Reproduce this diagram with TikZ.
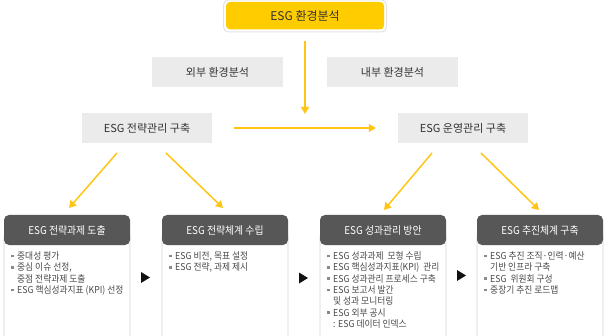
\documentclass[tikz,border=0pt]{standalone}
\usepackage{fontspec}
\setmainfont{Noto Sans CJK KR}
\newfontfamily\krc[FakeStretch=0.92]{Noto Sans CJK KR}
\usetikzlibrary{arrows.meta}
\definecolor{yellowc}{HTML}{FFCC00}
\definecolor{arrowc}{HTML}{FFC515}
\definecolor{grayfill}{HTML}{EBEBEB}
\definecolor{headc}{HTML}{575757}
\definecolor{borderc}{HTML}{D2D2D2}
\definecolor{outerc}{HTML}{E2E2E2}
\definecolor{textc}{HTML}{333333}
\definecolor{bodyc}{HTML}{4A4A4A}
\definecolor{bulc}{HTML}{8A8A8A}
\definecolor{tric}{HTML}{111111}
\newcommand{\bul}{\makebox[6pt][l]{\textcolor{bulc}{\rule[2.2pt]{2.6pt}{2.6pt}}}}
\newcommand{\cnt}{\hspace*{6pt}}
\begin{document}
\begin{tikzpicture}[x=1pt,y=-1pt,
  graybox/.style={fill=grayfill, text=textc, inner sep=0pt, minimum height=30pt, font=\fontsize{11}{13}\selectfont},
  headbox/.style={fill=headc, text=white, rounded corners=5pt, inner sep=0pt, minimum width=126pt, minimum height=30pt, font={\krc\fontsize{10.7}{13}\selectfont}},
  bodytext/.style={anchor=north west, align=left, inner sep=0pt, text=bodyc, font={\krc\fontsize{9.5}{11.3}\selectfont}},
  arr/.style={draw=arrowc, line width=1.5pt, -{Triangle[length=7pt,width=8pt]}},
  tri/.style={fill=tric}
]
\useasboundingbox (0,0) rectangle (609,336);

% top
\node[draw=outerc, line width=1pt, fill=white, rounded corners=5pt, minimum width=163pt, minimum height=32pt, inner sep=0pt] (topo) at (305,16) {};
\node[fill=yellowc, rounded corners=4pt, minimum width=158pt, minimum height=27.5pt, inner sep=0pt, text=textc, font=\fontsize{12}{14}\selectfont] (top) at (305,15.7) {ESG 환경분석};

% analysis boxes
\node[graybox, minimum width=131pt] (ext) at (217.5,72) {외부 환경분석};
\node[graybox, minimum width=131pt] (int) at (392.5,72) {내부 환경분석};

% level 2
\node[graybox, minimum width=130pt] (s1) at (147,128) {ESG 전략관리 구축};
\node[graybox, minimum width=130pt] (s2) at (463,128) {ESG 운영관리 구축};

\coordinate (vend) at (305,114);
\draw[arr] ([yshift=-9pt]topo.south) -- (vend);
\draw[arr] ([xshift=22pt]s1.east) -- ([xshift=-22pt]s2.west);

% bottom boxes
\foreach \l in {4,162,320,477}{
  \draw[draw=borderc, fill=white, line width=0.8pt, rounded corners=4pt] (\l,232) rectangle ({\l+126},350);
}
\node[headbox] (h1) at (67,230) {ESG 전략과제 도출};
\node[headbox] (h2) at (225,230) {ESG 전략체계 수립};
\node[headbox] (h3) at (383,230) {ESG 성과관리 방안};
\node[headbox] (h4) at (540,230) {ESG 추진체계 구축};

% diagonal arrows
\coordinate (a1s) at (117,153); \coordinate (a1e) at (69,208);
\coordinate (a2s) at (166,153); \coordinate (a2e) at (223,208);
\coordinate (a3s) at (432,153); \coordinate (a3e) at (384,210);
\coordinate (a4s) at (481,153); \coordinate (a4e) at (539,210);
\draw[arr] (a1s) -- (a1e);
\draw[arr] (a2s) -- (a2e);
\draw[arr] (a3s) -- (a3e);
\draw[arr] (a4s) -- (a4e);

% body texts
\node[bodytext] (b1) at (11,251.5) {\bul 중대성 평가\\ \bul 중심 이슈 선정,\\ \cnt 중점 전략과제 도출\\ \bul ESG 핵심성과지표 (KPI) 선정};
\node[bodytext] (b2) at (169,251.5) {\bul ESG 비전, 목표 설정\\ \bul ESG 전략, 과제 제시};
\node[bodytext] (b3) at (327,251.5) {\bul ESG 성과과제 \ 모형 수립\\ \bul ESG 핵심성과지표(KPI) \ 관리\\ \bul ESG 성과관리 프로세스 구축\\ \bul ESG 보고서 발간\\ \cnt 및 성과 모니터링\\ \bul ESG 외부 공시\\ \cnt : ESG 데이터 인덱스};
\node[bodytext] (b4) at (484,251.5) {\bul ESG 추진 조직·인력·예산\\ \cnt 기반 인프라 구축\\ \bul ESG \ 위원회 구성\\ \bul 중장기 추진 로드맵};

% triangles
\fill[tri] (141,272) -- (150,277.5) -- (141,283) -- cycle;
\fill[tri] (299,272.5) -- (308,278) -- (299,283.5) -- cycle;
\fill[tri] (457,270) -- (466,275.5) -- (457,281) -- cycle;
\end{tikzpicture}
\end{document}
